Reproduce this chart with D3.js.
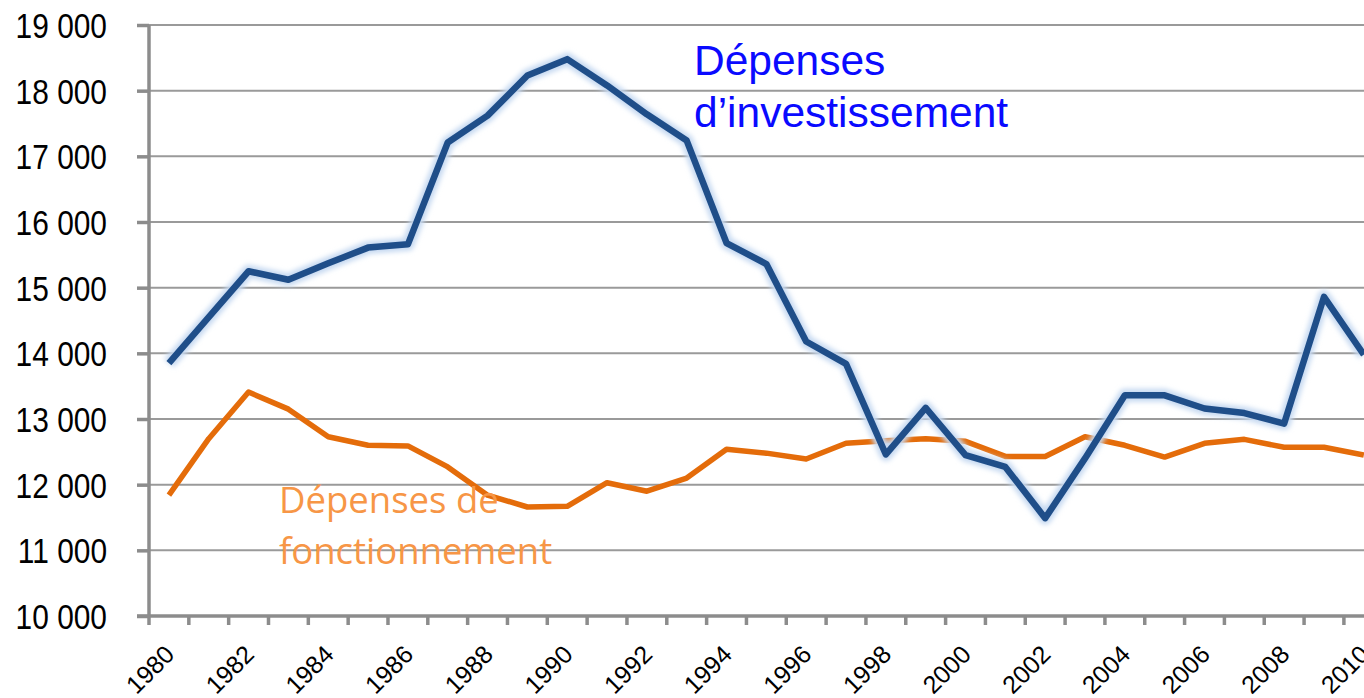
<!DOCTYPE html>
<html>
<head>
<meta charset="utf-8">
<script src="https://cdn.jsdelivr.net/npm/d3@7.9.0/dist/d3.min.js"></script>
<style>
  html, body { margin: 0; padding: 0; background: #fff; overflow: hidden; }
  svg { display: block; }
  .tick-label { font-family: "Liberation Sans", Arial, sans-serif; fill: #000; }
</style>
</head>
<body>
<div id="chart"></div>
<script>
// Data (millions)
const years = d3.range(1980, 2011);
const investissement = [
  13850, 14550, 15250, 15120, 15370, 15610, 15660, 17210, 17620, 18230,
  18480, 18080, 17640, 17240, 15680, 15360, 14180, 13840, 12460, 13170,
  12450, 12270, 11490, 12400, 13360, 13360, 13160, 13090, 12930, 14860,
  13980
];
const fonctionnement = [
  11840, 12700, 13410, 13150, 12730, 12600, 12590, 12270, 11840, 11660,
  11670, 12030, 11900, 12100, 12540, 12480, 12390, 12630, 12670, 12700,
  12660, 12430, 12430, 12730, 12600, 12420, 12630, 12690, 12570, 12570,
  12450
];
const yTicks = d3.range(10000, 19001, 1000);
const xLabelYears = years.filter((d) => d % 2 === 0);

const width = 1364;
const height = 698;
const plotLeft = 149;
const plotTop = 25;
const plotBottom = 616;
const step = 39.83;

const svg = d3.select('#chart').append('svg')
  .attr('width', width)
  .attr('height', height);

const defs = svg.append('defs');
defs.append('filter')
  .attr('id', 'glow')
  .attr('x', '-5%').attr('y', '-5%').attr('width', '110%').attr('height', '110%')
  .append('feGaussianBlur')
  .attr('stdDeviation', 2.5);

const x = d3.scaleBand()
  .domain(years)
  .range([plotLeft, plotLeft + step * years.length])
  .paddingInner(0)
  .paddingOuter(0);

const y = d3.scaleLinear()
  .domain([10000, 19000])
  .range([plotBottom, plotTop]);

const cx = (d) => x(d) + x.bandwidth() / 2;

// gridlines
svg.append('g')
  .selectAll('line')
  .data(yTicks.filter((d) => d > 10000))
  .join('line')
  .attr('x1', plotLeft)
  .attr('x2', width)
  .attr('y1', (d) => y(d))
  .attr('y2', (d) => y(d))
  .attr('stroke', '#9a9a9a')
  .attr('stroke-width', 2);

// y axis (labels drawn separately, narrowed like the original)
const yAxis = svg.append('g')
  .attr('transform', `translate(${plotLeft},0)`)
  .call(d3.axisLeft(y).tickValues(yTicks).tickSize(12).tickFormat(''));
yAxis.select('.domain').attr('stroke', '#8c8c8c').attr('stroke-width', 3.5)
  .attr('d', `M0,${plotTop}V${plotBottom}`);
yAxis.selectAll('.tick line').attr('stroke', '#8c8c8c').attr('stroke-width', 3.5);

svg.append('g')
  .selectAll('text')
  .data(yTicks)
  .join('text')
  .attr('class', 'tick-label')
  .attr('transform', (d) => `translate(107,${y(d) + 13}) scale(0.83,1)`)
  .attr('text-anchor', 'end')
  .style('font-size', '36px')
  .text((d) => d3.format(',')(d).replace(',', ' '));

// x axis: ticks at category boundaries
const xAxis = svg.append('g');
xAxis.append('line')
  .attr('x1', plotLeft - 12)
  .attr('x2', width)
  .attr('y1', plotBottom)
  .attr('y2', plotBottom)
  .attr('stroke', '#8c8c8c')
  .attr('stroke-width', 3.5);
xAxis.selectAll('.xtick')
  .data(years)
  .join('line')
  .attr('class', 'xtick')
  .attr('x1', (d) => x(d))
  .attr('x2', (d) => x(d))
  .attr('y1', plotBottom)
  .attr('y2', plotBottom + 9)
  .attr('stroke', '#8c8c8c')
  .attr('stroke-width', 3.5);
xAxis.selectAll('text')
  .data(xLabelYears)
  .join('text')
  .attr('class', 'tick-label')
  .attr('transform', (d) => `translate(${cx(d) + 7},656) rotate(-45)`)
  .attr('text-anchor', 'end')
  .style('font-size', '25px')
  .text((d) => d);

const line = d3.line()
  .x((d, i) => cx(years[i]))
  .y((d) => y(d));

// fonctionnement
svg.append('path')
  .datum(fonctionnement)
  .attr('fill', 'none')
  .attr('stroke', '#e46c0a')
  .attr('stroke-width', 5.5)
  .attr('stroke-linejoin', 'round')
  .attr('d', line);

// investissement with glow
svg.append('path')
  .datum(investissement)
  .attr('fill', 'none')
  .attr('stroke', '#c6d9f1')
  .attr('stroke-width', 13)
  .attr('stroke-linejoin', 'round')
  .attr('filter', 'url(#glow)')
  .attr('d', line);
svg.append('path')
  .datum(investissement)
  .attr('fill', 'none')
  .attr('stroke', '#1f4e89')
  .attr('stroke-width', 6.5)
  .attr('stroke-linejoin', 'round')
  .attr('d', line);

// annotations
const blueLabel = svg.append('text')
  .attr('font-family', '"Liberation Sans", Arial, sans-serif')
  .attr('font-size', 42.5)
  .attr('fill', '#0a0aff');
blueLabel.append('tspan').attr('x', 694).attr('y', 75).text('Dépenses');
blueLabel.append('tspan').attr('x', 694).attr('y', 127).text('d’investissement');

const orangeLabel = svg.append('text')
  .attr('font-family', '"Open Sans", "Noto Sans", sans-serif')
  .attr('font-size', 36.5)
  .attr('fill', '#f79646');
orangeLabel.append('tspan').attr('x', 279).attr('y', 513).text('Dépenses de');
orangeLabel.append('tspan').attr('x', 279).attr('y', 564).text('fonctionnement');
</script>
</body>
</html>
